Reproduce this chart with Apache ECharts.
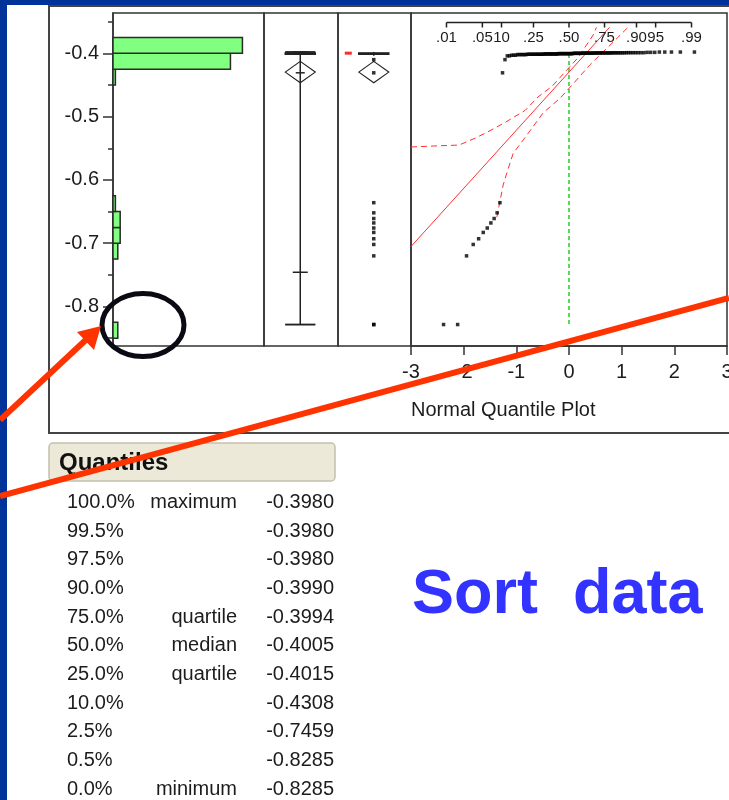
<!DOCTYPE html>
<html><head><meta charset="utf-8">
<script src="https://cdn.jsdelivr.net/npm/echarts@6/dist/echarts.min.js"></script>
<style>html,body{margin:0;padding:0;background:#003399;}#c{width:729px;height:800px;}</style>
</head><body><div id="c"></div>
<script>
// ---------------- DATA ----------------
const dataValues = [-0.8285, -0.7200, -0.7020, -0.6930, -0.6830, -0.6760, -0.6680, -0.6610, -0.6520, -0.6360,
                    -0.4308, -0.4100, -0.4040, -0.4030, -0.4020, -0.4015, -0.4010, -0.4005, -0.4000, -0.3997,
                    -0.3994, -0.3992, -0.3990, -0.3985, -0.3980];
const dataCounts = [2, 1, 1, 1, 1, 1, 1, 1, 1, 1,
                    1, 1, 2, 3, 6, 12, 12, 13, 8, 10,
                    12, 8, 8, 3, 5];
const binStart = -0.85;
const binWidth = 0.025;
const binTotal = 20;
const histMaxCount = 63;
const yAxisRange = [-0.8624, -0.3363];
const yTickLabels = [-0.8, -0.7, -0.6, -0.5, -0.4];
const yMinorTicks = [-0.85, -0.75, -0.65, -0.55, -0.45, -0.35];
const zAxisRange = [-3, 3];
const probTicks = [0.01, 0.05, 0.10, 0.25, 0.50, 0.75, 0.90, 0.95, 0.99];
const probLabels = ['.01', '.05', '10', '.25', '.50', '.75', '.90', '95', '.99'];
const upperBandZ = [-3.0, -2.45, -2.09, -1.78, -1.54, -1.21, -0.83, -0.59, -0.32, -0.08, 0.17, 0.46, 0.52];
const upperBandV = [-0.548, -0.546, -0.545, -0.534, -0.524, -0.509, -0.490, -0.469, -0.452, -0.430, -0.407, -0.371, -0.359];
const lowerBandZ = [-1.37, -1.25, -1.18, -1.06, -0.87, -0.49, -0.17, 0.08, 0.40, 0.78, 1.12];
const lowerBandV = [-0.659, -0.608, -0.589, -0.558, -0.537, -0.494, -0.471, -0.448, -0.418, -0.387, -0.359];
const refLineZ = 0;
const refLineRange = [-0.401, -0.832];
const fitLineTop = -0.359;
const quantilePct = ['100.0%', '99.5%', '97.5%', '90.0%', '75.0%', '50.0%', '25.0%', '10.0%', '2.5%', '0.5%', '0.0%'];
const quantileNames = ['maximum', '', '', '', 'quartile', 'median', 'quartile', '', '', '', 'minimum'];
const quantileValues = [-0.3980, -0.3980, -0.3980, -0.3990, -0.3994, -0.4005, -0.4015, -0.4308, -0.7459, -0.8285, -0.8285];
const xAxisTitle = 'Normal Quantile Plot';
const tableTitle = 'Quantiles';
const slideText = 'Sort  data';

// ---------------- helpers ----------------
function probit(p) {
  const a = [-3.969683028665376e+01, 2.209460984245205e+02, -2.759285104469687e+02, 1.383577518672690e+02, -3.066479806614716e+01, 2.506628277459239e+00];
  const b = [-5.447609879822406e+01, 1.615858368580409e+02, -1.556989798598866e+02, 6.680131188771972e+01, -1.328068155288572e+01];
  const c = [-7.784894002430293e-03, -3.223964580411365e-01, -2.400758277161838e+00, -2.549732539343734e+00, 4.374664141464968e+00, 2.938163982698783e+00];
  const d = [7.784695709041462e-03, 3.224671290700398e-01, 2.445134137142996e+00, 3.754408661907416e+00];
  const pl = 0.02425, ph = 1 - pl; let q, r;
  if (p < pl) { q = Math.sqrt(-2 * Math.log(p)); return (((((c[0]*q+c[1])*q+c[2])*q+c[3])*q+c[4])*q+c[5]) / ((((d[0]*q+d[1])*q+d[2])*q+d[3])*q+1); }
  if (p <= ph) { q = p - 0.5; r = q*q; return (((((a[0]*r+a[1])*r+a[2])*r+a[3])*r+a[4])*r+a[5])*q / (((((b[0]*r+b[1])*r+b[2])*r+b[3])*r+b[4])*r+1); }
  q = Math.sqrt(-2 * Math.log(1 - p)); return -(((((c[0]*q+c[1])*q+c[2])*q+c[3])*q+c[4])*q+c[5]) / ((((d[0]*q+d[1])*q+d[2])*q+d[3])*q+1);
}
const sorted = [];
dataValues.forEach((v, i) => { for (let k = 0; k < dataCounts[i]; k++) sorted.push(v); });
sorted.sort((x, y) => x - y);
const N = sorted.length;
const mean = sorted.reduce((s, v) => s + v, 0) / N;
const sd = Math.sqrt(sorted.reduce((s, v) => s + (v - mean) * (v - mean), 0) / (N - 1));
const ci = 1.981 * sd / Math.sqrt(N);

// histogram bins
const counts = new Array(binTotal).fill(0);
sorted.forEach(v => { const k = Math.floor((v - binStart) / binWidth + 1e-9); if (k >= 0 && k < binTotal) counts[k]++; });
const histData = [];
counts.forEach((c, k) => { if (c > 0) histData.push([binStart + k * binWidth, binStart + (k + 1) * binWidth, c]); });

// outlier box stats
const Q3 = quantileValues[4], Q1 = quantileValues[6];
const iqr = Q3 - Q1;
const loFence = Q1 - 1.5 * iqr, hiFence = Q3 + 1.5 * iqr;
const inside = sorted.filter(v => v >= loFence && v <= hiFence);
const loAdj = Math.min(...inside), hiAdj = Math.max(...inside);
const outliers = sorted.filter(v => v < loFence || v > hiFence);
let shortHalf = [sorted[0], sorted[N - 1]];
{ const h = Math.floor(N / 2); let best = Infinity;
  for (let i = 0; i + h < N; i++) { const w = sorted[i + h] - sorted[i]; if (w < best) { best = w; shortHalf = [sorted[i], sorted[i + h]]; } } }

const qqData = sorted.map((v, i) => [probit((i + 1) / (N + 1)), v]);
const zTop = (fitLineTop - mean) / sd;
const fitData = [[zAxisRange[0], mean + sd * zAxisRange[0]], [zTop, fitLineTop]];

// ---------------- chart ----------------
const FONT = '"Liberation Sans", Arial, sans-serif';
const INK = '#1c1c1c';
const LINE = '#333';
const GT = 13, GH = 333;
const boxCenter = 0.49;

function yAx(idx, extra) {
  return Object.assign({ gridIndex: idx, type: 'value', min: yAxisRange[0], max: yAxisRange[1], show: false, splitLine: { show: false } }, extra || {});
}
function xHidden(idx, min, max) {
  return { gridIndex: idx, type: 'value', min: min, max: max, show: false, splitLine: { show: false } };
}
const gridBase = { top: GT, height: GH, show: true, borderColor: LINE, borderWidth: 1.5, backgroundColor: 'transparent',
                   containLabel: false, outerBoundsMode: 'none' };

function diamond(cx, Y, W) {
  return { type: 'polygon', shape: { points: [[cx - W, Y(mean)], [cx, Y(mean + ci)], [cx + W, Y(mean)], [cx, Y(mean - ci)]] },
           style: { fill: 'none', stroke: '#222', lineWidth: 1.2 } };
}

const option = {
  animation: false,
  backgroundColor: 'transparent',
  grid: [
    Object.assign({ left: 113, width: 151 }, gridBase),
    Object.assign({ left: 264, width: 74 }, gridBase),
    Object.assign({ left: 338, width: 73 }, gridBase),
    Object.assign({ left: 411, width: 316 }, gridBase),
    { left: 113, width: 151, top: GT, height: GH, show: false, containLabel: false, outerBoundsMode: 'none' }
  ],
  xAxis: [
    xHidden(0, 0, histMaxCount),
    xHidden(1, 0, 1),
    xHidden(2, 0, 1),
    { gridIndex: 3, type: 'value', min: zAxisRange[0], max: zAxisRange[1], interval: 1, position: 'bottom',
      axisLine: { show: true, lineStyle: { color: LINE, width: 1.5 } },
      axisTick: { show: true, length: 9, lineStyle: { color: LINE, width: 1.5 } },
      axisLabel: { fontSize: 20, fontFamily: FONT, color: INK, margin: 16, hideOverlap: false },
      splitLine: { show: false } },
    xHidden(4, 0, 1)
  ],
  yAxis: [
    yAx(0, { show: true, position: 'left',
      axisLine: { show: true, lineStyle: { color: LINE, width: 1.5 } },
      axisTick: { show: true, length: 10, customValues: yTickLabels, lineStyle: { color: LINE, width: 1.5 } },
      axisLabel: { show: true, customValues: yTickLabels, margin: 14, fontSize: 20, fontFamily: FONT, color: INK,
                   formatter: v => Number(v).toFixed(1) } }),
    yAx(1), yAx(2), yAx(3),
    yAx(4, { show: true, position: 'left',
      axisLine: { show: false },
      axisTick: { show: true, length: 5, customValues: yMinorTicks, lineStyle: { color: LINE, width: 1.5 } },
      axisLabel: { show: false } })
  ],
  series: [
    { type: 'custom', xAxisIndex: 0, yAxisIndex: 0, data: histData, encode: { x: 2, y: [0, 1] }, z: 3,
      renderItem: (params, api) => {
        const lo = api.value(0), hi = api.value(1), c = api.value(2);
        const p0 = api.coord([0, hi]), p1 = api.coord([c, lo]);
        return { type: 'rect', shape: { x: p0[0], y: p0[1], width: p1[0] - p0[0], height: p1[1] - p0[1] },
                 style: { fill: '#80ff80', stroke: '#2a2a2a', lineWidth: 1.5 } };
      } },
    { type: 'custom', xAxisIndex: 1, yAxisIndex: 1, data: [[boxCenter, quantileValues[5]]], z: 3, clip: false,
      renderItem: (params, api) => {
        const q = quantileValues;
        const cx = api.coord([boxCenter, q[5]])[0];
        const Y = v => api.coord([boxCenter, v])[1];
        const st = { stroke: '#222', lineWidth: 1.5 };
        const hl = (v, w) => ({ type: 'line', shape: { x1: cx - w, y1: Y(v), x2: cx + w, y2: Y(v) }, style: st });
        return { type: 'group', children: [
          { type: 'line', shape: { x1: cx, y1: Y(q[0]), x2: cx, y2: Y(q[10]) }, style: st },
          { type: 'rect', shape: { x: cx - 15, y: Y(q[4]), width: 30, height: Y(q[6]) - Y(q[4]) }, style: { fill: '#222', stroke: '#222', lineWidth: 1.5 } },
          hl(q[0], 15), hl(q[10], 15), hl(q[1], 15), hl(q[9], 15),
          hl(q[2], 7.5), hl(q[8], 7.5), hl(q[3], 4.5), hl(q[7], 4.5),
          diamond(cx, Y, 15)
        ] };
      } },
    { type: 'custom', xAxisIndex: 2, yAxisIndex: 2, data: [[boxCenter, quantileValues[5]]], z: 3, clip: false,
      renderItem: (params, api) => {
        const cx = api.coord([boxCenter, Q1])[0];
        const Y = v => api.coord([boxCenter, v])[1];
        const st = { stroke: '#222', lineWidth: 1.5 };
        const yh = Y(shortHalf[1]), yl = Y(shortHalf[0]);
        const hgt = Math.max(3, yl - yh), ym = (yh + yl) / 2;
        return { type: 'group', children: [
          { type: 'rect', shape: { x: cx - 15, y: Y(Q3), width: 30, height: Y(Q1) - Y(Q3) }, style: { fill: 'none', stroke: '#222', lineWidth: 1.5 } },
          { type: 'line', shape: { x1: cx, y1: Y(Q3), x2: cx, y2: Y(hiAdj) }, style: st },
          { type: 'line', shape: { x1: cx, y1: Y(Q1), x2: cx, y2: Y(loAdj) }, style: st },
          diamond(cx, Y, 15),
          { type: 'rect', shape: { x: cx - 29, y: ym - hgt / 2, width: 7, height: hgt }, style: { fill: '#ff2a2a' } }
        ] };
      } },
    { type: 'scatter', xAxisIndex: 2, yAxisIndex: 2, data: outliers.map(v => [boxCenter, v]), symbol: 'rect', symbolSize: 3.5,
      itemStyle: { color: '#000' }, z: 5, silent: true },
    { type: 'line', xAxisIndex: 3, yAxisIndex: 3, data: [[refLineZ, refLineRange[0]], [refLineZ, refLineRange[1]]], symbol: 'none',
      lineStyle: { color: '#22cc22', width: 1.5, type: [4, 3] }, z: 3, silent: true },
    { type: 'line', xAxisIndex: 3, yAxisIndex: 3, data: fitData, symbol: 'none', clip: true,
      lineStyle: { color: '#ff3030', width: 1 }, z: 3, silent: true },
    { type: 'line', xAxisIndex: 3, yAxisIndex: 3, data: upperBandZ.map((z, i) => [z, upperBandV[i]]), symbol: 'none', clip: true,
      lineStyle: { color: '#ff3030', width: 1, type: [6, 4] }, z: 3, silent: true },
    { type: 'line', xAxisIndex: 3, yAxisIndex: 3, data: lowerBandZ.map((z, i) => [z, lowerBandV[i]]), symbol: 'none', clip: true,
      lineStyle: { color: '#ff3030', width: 1, type: [6, 4] }, z: 3, silent: true },
    { type: 'scatter', xAxisIndex: 3, yAxisIndex: 3, data: qqData, symbol: 'rect', symbolSize: 3.5,
      itemStyle: { color: '#000' }, z: 5, silent: true },
    { type: 'custom', xAxisIndex: 3, yAxisIndex: 3, data: [[0, yAxisRange[1]]], z: 4, clip: false,
      renderItem: (params, api) => {
        const X = p => api.coord([probit(p), yAxisRange[1]])[0];
        const top = api.coord([0, yAxisRange[1]])[1];
        const ly = top + 9.5;
        const st = { stroke: '#222', lineWidth: 1.5 };
        const children = [{ type: 'line', shape: { x1: X(probTicks[0]), y1: ly, x2: X(probTicks[probTicks.length - 1]), y2: ly }, style: st }];
        probTicks.forEach((p, i) => {
          const x = X(p);
          children.push({ type: 'line', shape: { x1: x, y1: ly, x2: x, y2: ly + 5 }, style: st });
          children.push({ type: 'text', style: { text: probLabels[i], x: x, y: ly + 15.5, font: '15px ' + FONT, fill: INK,
            align: 'center', textAlign: 'center', verticalAlign: 'middle', textVerticalAlign: 'middle' } });
        });
        return { type: 'group', children };
      } }
  ],
  graphic: { elements: [] }
};

const G = option.graphic.elements;
const txt = (x, y, text, font, fill, align) => ({ type: 'text', x: x, y: y, z: 10, silent: true,
  style: { text: text, font: font, fill: fill, align: align, textAlign: align, verticalAlign: 'middle', textVerticalAlign: 'middle' } });
G.push({ type: 'rect', z: -20, silent: true, shape: { x: 7, y: 5, width: 722, height: 795 }, style: { fill: '#ffffff' } });
G.push({ type: 'rect', z: -10, silent: true, shape: { x: 49, y: 6, width: 700, height: 427 }, style: { fill: 'none', stroke: '#444', lineWidth: 2 } });
G.push(txt(411, 410, xAxisTitle, '20px ' + FONT, INK, 'left'));
G.push({ type: 'rect', z: 5, silent: true, shape: { x: 49, y: 443, width: 286, height: 38, r: 4 }, style: { fill: '#ECE9D8', stroke: '#C4C0AE', lineWidth: 1.5 } });
G.push(txt(59, 463, tableTitle, 'bold 24px ' + FONT, '#111', 'left'));
quantilePct.forEach((p, i) => {
  const y = 502.5 + 28.65 * i;
  G.push(txt(67, y, p, '20px ' + FONT, INK, 'left'));
  if (quantileNames[i]) G.push(txt(237, y, quantileNames[i], '20px ' + FONT, INK, 'right'));
  G.push(txt(334, y, quantileValues[i].toFixed(4), '20px ' + FONT, INK, 'right'));
});
G.push(txt(412, 596, slideText, 'bold 63px ' + FONT, '#3333ff', 'left'));
G.push({ type: 'ellipse', z: 100, silent: true, shape: { cx: 143, cy: 325, rx: 41, ry: 31.5 }, style: { fill: 'none', stroke: '#0a0a14', lineWidth: 5 } });
G.push({ type: 'line', z: 100, silent: true, shape: { x1: 0, y1: 420, x2: 90, y2: 336 }, style: { stroke: '#ff3300', lineWidth: 6 } });
G.push({ type: 'polygon', z: 100, silent: true, shape: { points: [[101, 326], [77, 332], [94, 350]] }, style: { fill: '#ff3300' } });
G.push({ type: 'line', z: 100, silent: true, shape: { x1: 0, y1: 496, x2: 729, y2: 298 }, style: { stroke: '#ff3300', lineWidth: 6 } });

const chart = echarts.init(document.getElementById('c'), null, { renderer: 'canvas' });
chart.setOption(option);
</script></body></html>
